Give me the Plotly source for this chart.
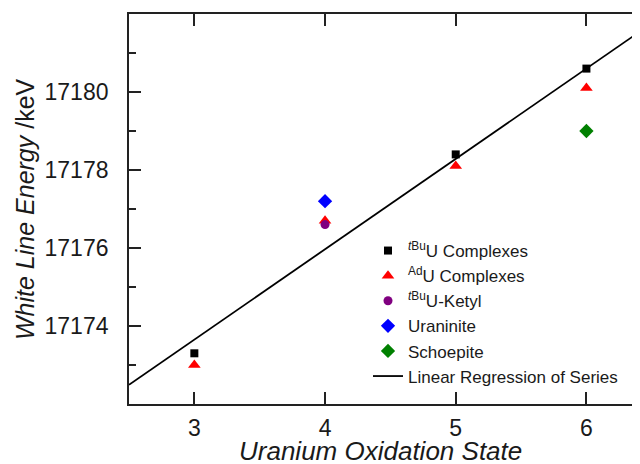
import plotly.graph_objects as go

# Data
tbu_x = [3, 5, 6]
tbu_y = [17173.3, 17178.4, 17180.6]
ad_x = [3, 4, 5, 6]
ad_y = [17173.0, 17176.7, 17178.1, 17180.1]
ketyl_x = [4]
ketyl_y = [17176.6]
uraninite_x = [4]
uraninite_y = [17177.2]
schoepite_x = [6]
schoepite_y = [17179.0]
# regression line (slope, intercept) as drawn
reg_slope = 2.317
reg_intercept = 17166.70
reg_x = [2.5, 6.41]
reg_y = [reg_intercept + reg_slope * v for v in reg_x]

x_ticks = [3, 4, 5, 6]
y_ticks = [17174, 17176, 17178, 17180]

FONT = "Liberation Sans, Arial, sans-serif"
TXT = "#1a1a1a"

# page body has an 8px default margin: compensate
OFF = 8
W, H = 640 - OFF, 464 - OFF
ML, MR, MT, MB = 129 - OFF, 0, 14 - OFF, 60


def px_x(x):
    return (x - OFF - ML) / (W - ML - MR)


def px_y(y):
    return (H - MB - (y - OFF)) / (H - MT - MB)


fig = go.Figure()
fig.add_trace(go.Scatter(x=reg_x, y=reg_y, mode="lines", name="Linear Regression of Series",
                         line=dict(color="black", width=1.8), legendrank=6))
fig.add_trace(go.Scatter(x=tbu_x, y=tbu_y, mode="markers", name="<sup><i>t</i>Bu</sup>U Complexes",
                         marker=dict(symbol="square", size=8, color="black"), legendrank=1))
fig.add_trace(go.Scatter(x=ad_x, y=ad_y, mode="markers", name="<sup>Ad</sup>U Complexes",
                         marker=dict(symbol="triangle-up", size=11, color="#ff0000"), legendrank=2))
fig.add_trace(go.Scatter(x=ketyl_x, y=ketyl_y, mode="markers", name="<sup><i>t</i>Bu</sup>U-Ketyl",
                         marker=dict(symbol="circle", size=9, color="#800080"), legendrank=3))
fig.add_trace(go.Scatter(x=uraninite_x, y=uraninite_y, mode="markers", name="Uraninite",
                         marker=dict(symbol="diamond", size=11, color="#0000ff"), legendrank=4))
fig.add_trace(go.Scatter(x=schoepite_x, y=schoepite_y, mode="markers", name="Schoepite",
                         marker=dict(symbol="diamond", size=11, color="#008000"), legendrank=5))

fig.update_layout(
    width=W, height=H,
    margin=dict(l=ML, r=MR, t=MT, b=MB, autoexpand=False),
    paper_bgcolor="white", plot_bgcolor="white",
    font=dict(family=FONT, color=TXT, size=23),
    showlegend=True,
    legend=dict(x=px_x(368), y=px_y(233), xanchor="left", yanchor="top",
                font=dict(size=17, family=FONT, color=TXT),
                bgcolor="rgba(0,0,0,0)", tracegroupgap=0),
    annotations=[
        dict(text="<i>Uranium Oxidation State</i>", xref="paper", yref="paper",
             x=px_x(380.6), y=px_y(451), xanchor="center", yanchor="middle",
             showarrow=False, font=dict(size=26, family=FONT, color=TXT)),
        dict(text="<i>White Line Energy</i> /keV", xref="paper", yref="paper",
             x=px_x(25), y=px_y(209), xanchor="center", yanchor="middle",
             textangle=-90, showarrow=False, font=dict(size=25, family=FONT, color=TXT)),
    ],
)
fig.update_xaxes(
    range=[2.5, 6.41], tickvals=x_ticks, ticktext=[str(v) for v in x_ticks],
    showgrid=False, zeroline=False, showline=True, linecolor="#222", linewidth=1.8,
    mirror="ticks", ticks="inside", ticklen=12, tickwidth=1.8, tickcolor="#222",
    tickfont=dict(size=23), automargin=False, ticklabelstandoff=2,
)
fig.update_yaxes(
    range=[17172, 17182], tickvals=y_ticks, ticktext=[str(v) for v in y_ticks],
    showgrid=False, zeroline=False, showline=True, linecolor="#222", linewidth=1.8,
    mirror=False, ticks="inside", ticklen=12, tickwidth=1.8, tickcolor="#222",
    tickfont=dict(size=23), automargin=False, ticklabelstandoff=14,
    minor=dict(tickvals=[17173, 17175, 17177, 17179, 17181], ticks="inside", ticklen=7,
               tickwidth=1.8, tickcolor="#222"),
)

fig.write_html("out.html")
